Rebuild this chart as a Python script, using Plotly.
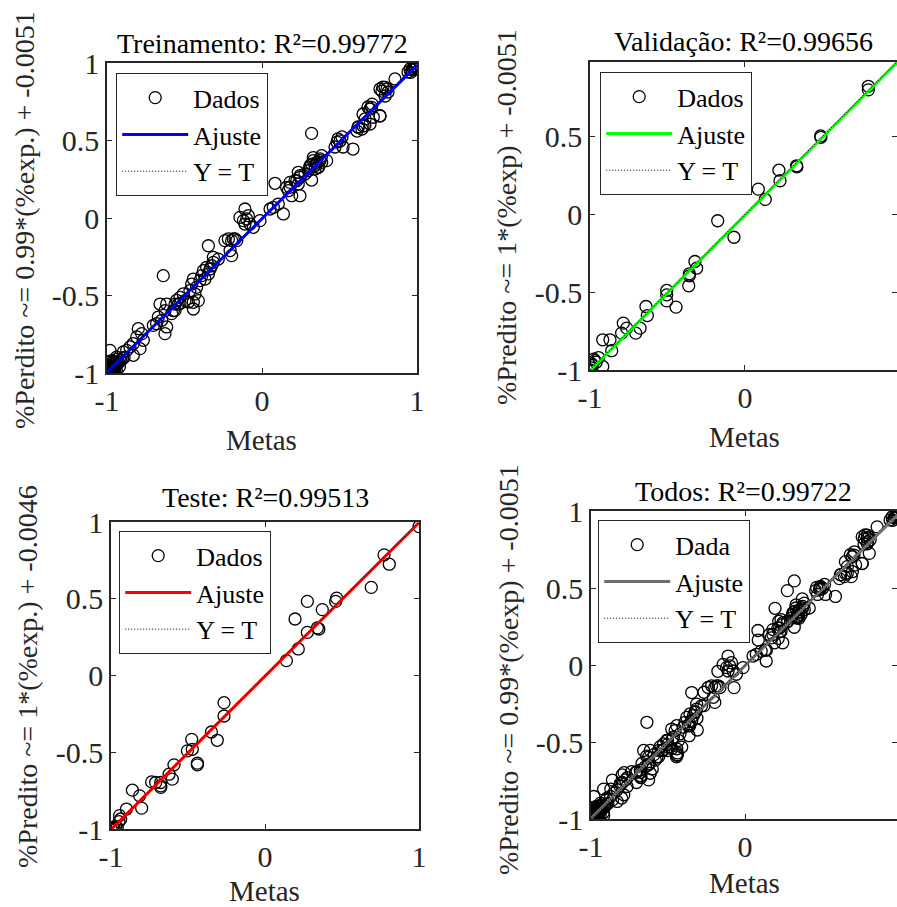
import plotly.graph_objects as go

# ---------------- data ----------------
train_x = [1.00, 0.99, 0.985, 0.97, 0.96, 0.975, 1.0, 0.955, 0.987, 0.942, 0.858,
           0.78, 0.806, 0.774, 0.813, 0.794, 0.71, 0.697, 0.684, 0.761, 0.652, 0.665,
           0.62, 0.645, 0.613, 0.652, 0.49, 0.503, 0.484, 0.516, 0.523, 0.587, 0.471,
           0.32, 0.621, 0.664, 0.697, 0.718, 0.761, 0.707, 0.761, 0.794,
           0.417, 0.331, 0.31, 0.352, 0.374, 0.299, 0.342, 0.32, 0.363, 0.277, 0.385,
           0.32, 0.234, 0.245, 0.224, 0.181, 0.159, 0.084,
           0.331, 0.353, 0.374, 0.363, 0.309, 0.385, 0.342,
           0.245, 0.213, 0.234, 0.181, 0.170, 0.192, 0.245,
           0.105, 0.073, 0.052, 0.138,
           -0.11, -0.099, -0.12, -0.11, -0.077, -0.088, -0.013, -0.056,
           -0.239, -0.196, -0.174, -0.206,
           -0.142, -0.346, -0.217, -0.185, -0.163, -0.196,
           -0.314, -0.282, -0.314,
           -0.357, -0.378, -0.335, -0.389, -0.346, -0.368, -0.40, -0.325,
           -0.637, -0.443, -0.454, -0.422, -0.465, -0.432,
           -0.508, -0.529, -0.497, -0.443, -0.411, -0.443, -0.54,
           -0.658, -0.615, -0.572, -0.626, -0.561,
           -0.475, -0.551, -0.529, -0.561, -0.583,
           -0.669, -0.647, -0.68, -0.615, -0.701, -0.626,
           -0.798, -0.776, -0.808, -0.766, -0.83, -0.852, -0.787, -0.873, -0.83, -0.895,
           -0.981, -0.938, -0.916,
           -1.0, -0.99, -0.995, -0.98, -0.985, -0.97, -0.975, -0.96, -0.965, -0.95,
           -0.955, -0.94, -0.945, -0.93, -0.99, -1.0, -0.98, -0.995, -0.97, -0.96,
           -0.95, -0.94, -0.92, -0.925, -0.91, -0.985, -1.0, -0.99, -0.975, -0.955,
           -0.935, -0.96, -0.90, -0.89]
train_y = [0.975, 0.97, 0.96, 0.955, 0.94, 0.965, 0.98, 0.961, 0.974, 0.942, 0.897,
           0.845, 0.832, 0.819, 0.813, 0.787, 0.735, 0.703, 0.716, 0.658, 0.671, 0.639,
           0.587, 0.574, 0.561, 0.594, 0.51, 0.497, 0.49, 0.523, 0.458, 0.445, 0.458,
           0.546, 0.585, 0.596, 0.606, 0.65, 0.66, 0.714, 0.832, 0.843,
           0.37, 0.37, 0.338, 0.348, 0.381, 0.305, 0.316, 0.348, 0.327, 0.284, 0.359,
           0.245, 0.295, 0.273, 0.24, 0.23, 0.198, 0.224,
           0.39, 0.359, 0.37, 0.327, 0.327, 0.402, 0.338,
           0.262, 0.241, 0.219, 0.198, 0.176, 0.144, 0.144,
           0.09, 0.069, 0.058, 0.026,
           0.058, -0.006, -0.017, -0.039, -0.039, 0.015, -0.017, -0.06,
           -0.146, -0.146, -0.135, -0.21,
           0.004, -0.179, -0.135, -0.135, -0.146, -0.243,
           -0.254, -0.265, -0.286,
           -0.318, -0.34, -0.329, -0.372, -0.361, -0.394, -0.404, -0.308,
           -0.372, -0.394, -0.426, -0.447, -0.469, -0.49,
           -0.49, -0.512, -0.533, -0.544, -0.533, -0.587, -0.555,
           -0.555, -0.555, -0.598, -0.598, -0.555,
           -0.542, -0.531, -0.552, -0.596, -0.617,
           -0.639, -0.66, -0.682, -0.703, -0.693, -0.746,
           -0.714, -0.746, -0.767, -0.789, -0.81, -0.832, -0.843, -0.854, -0.886, -0.864,
           -0.854, -0.897, -0.918,
           -1.0, -0.995, -0.98, -0.99, -0.97, -0.975, -0.96, -0.965, -0.985, -0.955,
           -0.97, -0.95, -0.935, -0.94, -0.95, -0.96, -0.94, -0.93, -0.92, -0.995,
           -0.99, -0.98, -0.96, -0.93, -0.92, -1.0, -0.99, -0.97, -0.99, -0.94,
           -0.91, -0.93, -0.905, -0.90]

val_x = [0.796, 0.796, 0.488, 0.49, 0.333, 0.335, 0.219, 0.226, 0.086, 0.131,
         -0.176, -0.071, -0.323, -0.312, -0.359, -0.359, -0.363, -0.505, -0.505,
         -0.505, -0.445, -0.639, -0.630, -0.785, -0.763, -0.705, -0.677, -0.796,
         -0.918, -0.871, -0.860, -0.945, -0.975, -0.99, -0.995, -1.0, -0.985,
         -0.96, -0.918, -0.97]
val_y = [0.823, 0.80, 0.504, 0.495, 0.312, 0.305, 0.284, 0.216, 0.162, 0.096,
         -0.041, -0.147, -0.303, -0.346, -0.382, -0.395, -0.459, -0.489, -0.517,
         -0.556, -0.596, -0.592, -0.650, -0.699, -0.731, -0.763, -0.731, -0.763,
         -0.806, -0.806, -0.876, -0.92, -0.93, -0.96, -0.985, -1.0, -0.97,
         -0.95, -0.977, -0.94]

test_x = [1.0, 0.773, 0.807, 0.690, 0.465, 0.459, 0.275, 0.372, 0.195, 0.340,
          0.35, 0.275, 0.216, 0.139, -0.266, -0.266, -0.348, -0.310, -0.476,
          -0.472, -0.504, -0.439, -0.439, -0.591, -0.623, -0.602, -0.677, -0.677,
          -0.677, -0.736, -0.710, -0.861, -0.814, -0.801, -0.900, -0.944, -0.937,
          -0.948, -0.99, -0.98, -0.97, -0.96, -1.0]
test_y = [0.97, 0.786, 0.725, 0.574, 0.504, 0.483, 0.483, 0.429, 0.368, 0.310,
          0.303, 0.281, 0.173, 0.097, -0.177, -0.264, -0.368, -0.422, -0.416,
          -0.481, -0.491, -0.571, -0.582, -0.582, -0.643, -0.675, -0.697, -0.719,
          -0.729, -0.693, -0.697, -0.747, -0.784, -0.864, -0.870, -0.913, -0.935,
          -0.952, -0.99, -1.0, -0.985, -0.99, -1.0]

# fit coefficients shown in the axis labels
slopes = [0.99, 1.0, 1.0, 0.99]
intercepts = [-0.0051, -0.0051, -0.0046, -0.0051]
fit_colors = ["#0000FF", "#00FF00", "#FF0000", "#6E6E6E"]
titles = ["Treinamento: R²=0.99772", "Validação: R²=0.99656",
          "Teste: R²=0.99513", "Todos: R²=0.99722"]
ylabels = ["%Perdito ~= 0.99*(%exp.) + -0.0051", "%Predito ~= 1*(%exp) + -0.0051",
           "%Predito ~= 1*(%exp.) + -0.0046", "%Predito ~= 0.99*(%exp) + -0.0051"]
data_names = ["Dados", "Dados", "Dados", "Dada"]
xlabel = "Metas"
tick_vals = [-1, -0.5, 0, 0.5, 1]
tick_text = ["-1", "-0.5", "0", "0.5", "1"]
xtick_vals = [-1, 0, 1]
xtick_text = ["-1", "0", "1"]

all_x = train_x + val_x + test_x
all_y = train_y + val_y + test_y
sets = [(train_x, train_y), (val_x, val_y), (test_x, test_y), (all_x, all_y)]

# ---------------- layout geometry ----------------
W, H = 897, 907
FONT = "Liberation Serif"
TXT = "#262626"
# plot boxes in pixels: (x0, x1, ytop, ybottom)
boxes = [(107, 417, 63, 373), (590, 897, 62, 370), (111, 419, 522, 829), (591, 897, 511, 819)]
xmax = [1.0, 0.981, 1.0, 0.987]
ymax = [1.0, 0.979, 1.0, 1.0]
title_pos = [(262, 43), (743, 41), (265, 497), (743, 491)]
xlabel_pos = [(261, 440), (744, 437), (264, 891), (744, 883)]
ylabel_pos = [(25, 220), (507, 217), (27, 677), (508, 670)]
legend_pos = [(116, 73), (600, 72), (119, 531), (598, 520)]

fig = go.Figure()
annotations = []
for i in range(4):
    xs, ys = sets[i]
    ax = "" if i == 0 else str(i + 1)
    lg = "legend" if i == 0 else "legend%d" % (i + 1)
    fig.add_trace(go.Scatter(
        x=xs, y=ys, mode="markers", name=data_names[i],
        marker=dict(symbol="circle-open", size=12, color="black", line=dict(width=1.3)),
        xaxis="x" + ax, yaxis="y" + ax, legend=lg, showlegend=True))
    fx = [-1, 1]
    fy = [slopes[i] * v + intercepts[i] for v in fx]
    fig.add_trace(go.Scatter(
        x=fx, y=fy, mode="lines", name="Ajuste",
        line=dict(color=fit_colors[i], width=3),
        xaxis="x" + ax, yaxis="y" + ax, legend=lg))
    fig.add_trace(go.Scatter(
        x=[-1, 1], y=[-1, 1], mode="lines", name="Y = T",
        line=dict(color="black", width=1, dash="1px,2px"),
        xaxis="x" + ax, yaxis="y" + ax, legend=lg))

    x0, x1, yt, yb = boxes[i]
    axis_common = dict(showgrid=False, zeroline=False, showline=True, linecolor=TXT,
                       linewidth=1.5, mirror="ticks", ticks="inside", ticklen=5,
                       tickcolor=TXT, tickwidth=1, automargin=False,
                       tickfont=dict(family=FONT, size=30, color=TXT))
    fig.layout["xaxis" + ax] = dict(
        domain=[x0 / W, x1 / W], range=[-1, xmax[i]], anchor="y" + ax,
        tickvals=xtick_vals, ticktext=xtick_text, **axis_common)
    fig.layout["yaxis" + ax] = dict(
        domain=[1 - yb / H, 1 - yt / H], range=[-1, ymax[i]], anchor="x" + ax,
        tickvals=tick_vals, ticktext=tick_text, **axis_common)
    fig.layout[lg] = dict(
        x=legend_pos[i][0] / W, y=1 - legend_pos[i][1] / H, xanchor="left", yanchor="top",
        bgcolor="white", bordercolor=TXT, borderwidth=1.2, itemwidth=66,
        font=dict(family=FONT, size=26, color="black"), tracegroupgap=0)
    annotations.append(dict(text=titles[i], x=title_pos[i][0] / W, y=1 - title_pos[i][1] / H,
                            xref="paper", yref="paper", showarrow=False,
                            xanchor="center", yanchor="middle",
                            font=dict(family=FONT, size=28, color="black")))
    annotations.append(dict(text=xlabel, x=xlabel_pos[i][0] / W, y=1 - xlabel_pos[i][1] / H,
                            xref="paper", yref="paper", showarrow=False,
                            xanchor="center", yanchor="middle",
                            font=dict(family=FONT, size=29, color=TXT)))
    annotations.append(dict(text=ylabels[i], x=ylabel_pos[i][0] / W, y=1 - ylabel_pos[i][1] / H,
                            xref="paper", yref="paper", showarrow=False, textangle=-90,
                            xanchor="center", yanchor="middle",
                            font=dict(family=FONT, size=28, color=TXT)))

fig.update_layout(width=W, height=H, margin=dict(l=0, r=0, t=0, b=0, autoexpand=False),
                  paper_bgcolor="white", plot_bgcolor="white",
                  annotations=annotations, showlegend=True)
fig.write_html("out.html")
